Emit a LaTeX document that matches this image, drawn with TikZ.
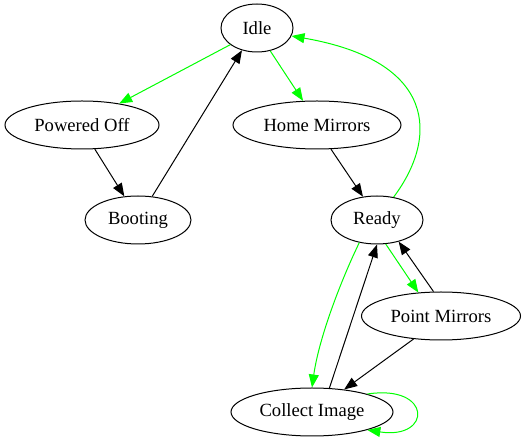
\documentclass[tikz,border=0pt]{standalone}
\usepackage{fontspec}
\setmainfont{Liberation Serif}
\usetikzlibrary{arrows.meta,shapes.geometric}

\tikzset{
  statenode/.style={draw, ellipse, line width=1pt, minimum height=48pt, inner sep=0pt, font=\fontsize{18.6}{20}\selectfont},
  goarrow/.style={line width=1pt, -{Triangle[length=13pt,width=10pt]}},
  gonext/.style={goarrow, green},
}

\begin{document}
\begin{tikzpicture}[x=1pt, y=-1pt]
    \useasboundingbox (0,0) rectangle (528,443);

    % --- 1. 状态节点 (States) ---
    \node[statenode, minimum width=72pt]  (idle)    at (257,28)  {Idle};
    \node[statenode, minimum width=154pt] (off)     at (82,125)  {Powered Off};
    \node[statenode, minimum width=168pt] (home)    at (317,125) {Home Mirrors};
    \node[statenode, minimum width=106pt] (boot)    at (138,220) {Booting};
    \node[statenode, minimum width=92pt]  (ready)   at (377,220) {Ready};
    \node[statenode, minimum width=159pt] (point)   at (441,316) {Point Mirrors};
    \node[statenode, minimum width=162pt] (collect) at (312,412) {Collect Image};

    % --- 2. 黑色转移 (普通边) ---
    \draw[goarrow] (off.298) -- (boot.120);
    \draw[goarrow] (boot.59) -- (idle.236);
    \draw[goarrow] (home.300) -- (ready.121);
    \draw[goarrow] (collect.54) -- (ready.270);
    \draw[goarrow] (point.107) -- (ready.315);
    \draw[goarrow] (point.220) -- (collect.35);

    % --- 3. 绿色转移 ---
    \draw[gonext] (idle.212) -- (off.30);
    \draw[gonext] (idle.300) -- (home.120);
    \draw[gonext] (ready.290) -- (point.134);
    % 弯的边
    \draw[gonext] (ready.54) .. controls +(45,-60) and +(145,25) .. (idle.347);
    \draw[gonext] (ready.232) .. controls +(-18,37) and +(7,-50) .. (collect.90);
    % 自环
    \draw[gonext] (collect.18) .. controls +(65,-10) and +(65,10) .. (collect.-18);

\end{tikzpicture}
\end{document}
